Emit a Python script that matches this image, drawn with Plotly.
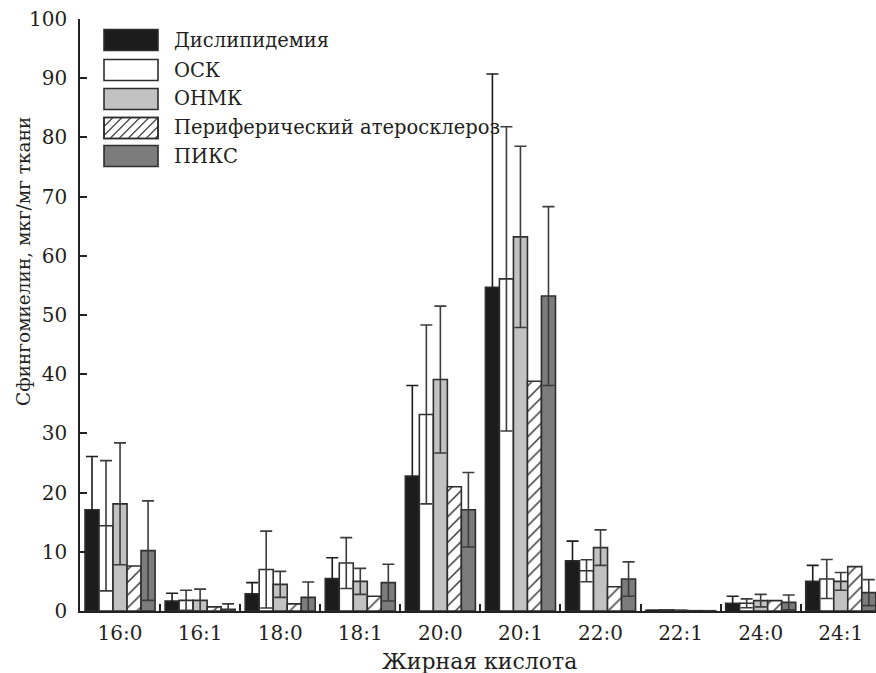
import plotly.graph_objects as go

# Sphingomyelin content by fatty acid, mean ± SD per patient group
acids = ["16:0", "16:1", "18:0", "18:1", "20:0", "20:1", "22:0", "22:1", "24:0", "24:1"]

dyslipidemia = [17.1, 1.7, 2.9, 5.5, 22.8, 54.7, 8.5, 0.1, 1.3, 5.0]
dyslipidemia_sd = [9.0, 1.3, 1.9, 3.5, 15.3, 36.0, 3.3, 0.0, 1.2, 2.7]

osk = [14.4, 1.8, 7.0, 8.1, 33.2, 56.1, 6.8, 0.2, 1.3, 5.4]
osk_sd = [11.0, 1.7, 6.5, 4.3, 15.1, 25.7, 1.85, 0.0, 0.75, 3.3]

onmk = [18.1, 1.8, 4.5, 5.0, 39.1, 63.2, 10.7, 0.1, 1.75, 5.0]
onmk_sd = [10.3, 1.9, 2.2, 2.2, 12.4, 15.3, 3.0, 0.0, 1.05, 1.5]

peripheral = [7.6, 0.7, 1.2, 2.5, 21.0, 38.8, 4.1, 0.05, 1.75, 7.5]

piks = [10.2, 0.3, 2.3, 4.8, 17.1, 53.2, 5.4, 0.05, 1.45, 3.1]
piks_sd = [8.4, 0.9, 2.6, 3.1, 6.3, 15.1, 2.9, 0.0, 1.25, 2.2]

names = ["Дислипидемия", "ОСК", "ОНМК", "Периферический атеросклероз", "ПИКС"]
fills = ["#1c1c1c", "#ffffff", "#c2c2c2", "#ffffff", "#7c7c7c"]
err_colors = ["#1c1c1c", "#3c3c3c", "#3c3c3c", None, "#3c3c3c"]

FONT = "DejaVu Serif"
TEXT = "#231f20"
EDGE = "#2e2e2e"

W, H = 876, 673
L, R, T, B = 80, 0, 19, 62
PW, PH = W - L - R, H - T - B


def px(x, y):
    """Pixel position -> paper coordinates."""
    return (x - L) / PW, (H - B - y) / PH


fig = go.Figure()
series = [
    (dyslipidemia, dyslipidemia_sd),
    (osk, osk_sd),
    (onmk, onmk_sd),
    (peripheral, None),
    (piks, piks_sd),
]
for i, (vals, sd) in enumerate(series):
    marker = dict(color=fills[i], line=dict(color=EDGE, width=1.6))
    if i == 3:
        marker["pattern"] = dict(shape="/", fgcolor="#333333", bgcolor="#ffffff",
                                 size=9, solidity=0.16, fillmode="replace")
    if sd is not None:
        ey = dict(type="data", array=sd, visible=True, color=err_colors[i],
                  thickness=1.6, width=6)
    else:
        ey = dict(visible=False)
    fig.add_trace(go.Bar(x=acids, y=vals, name=names[i], marker=marker,
                         error_y=ey, showlegend=False))

# Legend drawn as swatches + labels
shapes = []
annotations = []
row_y = [40, 70, 99, 128, 156]
sx0, sx1, sh = 104, 158, 21
for i, yc in enumerate(row_y):
    ytop, ybot = yc - sh / 2, yc + sh / 2
    x0p, y0p = px(sx0, ybot)
    x1p, y1p = px(sx1, ytop)
    shapes.append(dict(type="rect", xref="paper", yref="paper", x0=x0p, y0=y0p, x1=x1p, y1=y1p,
                       fillcolor=fills[i], line=dict(color=EDGE, width=1.6), layer="above"))
    if i == 3:
        hgt = ybot - ytop
        c = sx0 - hgt
        while c < sx1:
            # segment from (c, ybot) to (c + hgt, ytop), clipped to swatch
            xa, ya = c, ybot
            xb, yb = c + hgt, ytop
            if xa < sx0:
                ya = ybot - (sx0 - xa)
                xa = sx0
            if xb > sx1:
                yb = ytop + (xb - sx1)
                xb = sx1
            if xb > xa:
                p0 = px(xa, ya)
                p1 = px(xb, yb)
                shapes.append(dict(type="line", xref="paper", yref="paper",
                                   x0=p0[0], y0=p0[1], x1=p1[0], y1=p1[1],
                                   line=dict(color="#444444", width=1.3), layer="above"))
            c += 9
        shapes.append(dict(type="rect", xref="paper", yref="paper", x0=x0p, y0=y0p, x1=x1p, y1=y1p,
                           fillcolor="rgba(0,0,0,0)", line=dict(color=EDGE, width=1.6), layer="above"))
    tx, ty = px(172, yc)
    annotations.append(dict(text=names[i], xref="paper", yref="paper", x=tx, y=ty,
                            xanchor="left", yanchor="middle", showarrow=False,
                            font=dict(family=FONT, size=19.5, color=TEXT)))

ytx, yty = px(23, 262)
annotations.append(dict(text="Сфингомиелин, мкг/мг ткани", xref="paper", yref="paper",
                        x=ytx, y=yty, textangle=-90, showarrow=False,
                        xanchor="center", yanchor="middle",
                        font=dict(family=FONT, size=18.5, color=TEXT)))
xtx, xty = px(480, 661)
annotations.append(dict(text="Жирная кислота", xref="paper", yref="paper",
                        x=xtx, y=xty, showarrow=False, xanchor="center", yanchor="middle",
                        font=dict(family=FONT, size=22, color=TEXT)))

fig.update_layout(
    width=W, height=H, autosize=False,
    margin=dict(l=L, r=R, t=T, b=B, pad=0),
    paper_bgcolor="white", plot_bgcolor="white",
    barmode="group", bargap=0.125, bargroupgap=0.0,
    font=dict(family=FONT, size=20, color=TEXT),
    shapes=shapes, annotations=annotations,
    showlegend=False,
)
fig.update_xaxes(
    type="category", range=[-0.5, 9.44],
    tickson="boundaries", ticks="inside", ticklen=7, tickwidth=1.5, tickcolor="#222",
    showline=True, linecolor="#222", linewidth=1.5, showgrid=False, zeroline=False,
    tickfont=dict(family=FONT, size=20, color=TEXT), ticklabelstandoff=3,
)
fig.update_yaxes(
    range=[0, 100], dtick=10, ticks="inside", ticklen=7, tickwidth=1.5, tickcolor="#222",
    showline=True, linecolor="#222", linewidth=1.5, showgrid=False, zeroline=False,
    tickfont=dict(family=FONT, size=20, color=TEXT), ticklabelstandoff=7,
)

fig.write_html("out.html")
